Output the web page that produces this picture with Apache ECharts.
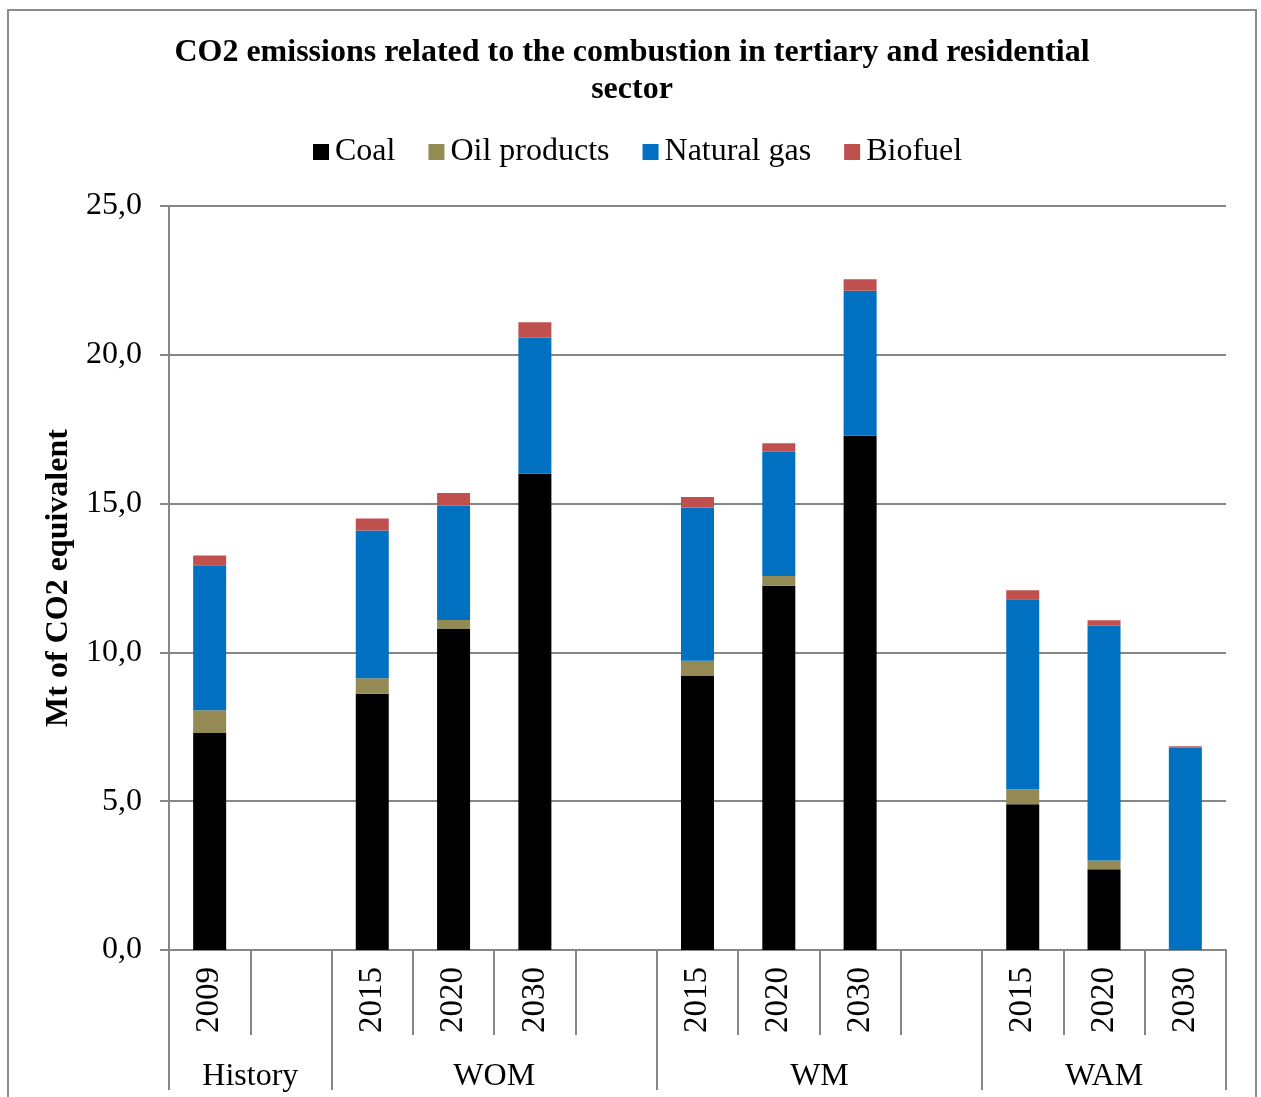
<!DOCTYPE html>
<html>
<head>
<meta charset="utf-8">
<script src="https://cdn.jsdelivr.net/npm/echarts@6/dist/echarts.min.js"></script>
<style>
  html, body { margin: 0; padding: 0; background: #fff; }
  #chart { width: 1261px; height: 1097px; }
</style>
</head>
<body>
<div id="chart"></div>
<script>
// Year slots on the category axis (blank slots separate the scenarios)
const years = ['2009', '', '2015', '2020', '2030', '', '2015', '2020', '2030', '', '2015', '2020', '2030'];
// Scenario groups drawn under the years: name, first slot, slot count
const groupNames = ['History', 'WOM', 'WM', 'WAM'];
const groupStarts = [0, 2, 6, 10];
const groupSizes = [2, 4, 4, 3];

// Emissions by fuel, Mt of CO2 equivalent
const coal    = [7.29, null, 8.61, 10.79, 16.00, null, 9.21, 12.24, 17.28, null, 4.90, 2.71, 0];
const oil     = [0.77, null, 0.52, 0.30, 0, null, 0.51, 0.33, 0, null, 0.50, 0.30, 0];
const gas     = [4.87, null, 4.97, 3.84, 4.58, null, 5.15, 4.17, 4.87, null, 6.39, 7.89, 6.80];
const biofuel = [0.33, null, 0.40, 0.43, 0.51, null, 0.35, 0.29, 0.39, null, 0.30, 0.18, 0.05];

const FONT = "'Liberation Serif', 'Times New Roman', serif";
const GRID_GRAY = '#868686';

const groupBounds = [0].concat(groupStarts.map((s, i) => s + groupSizes[i]));
const groupCenters = groupStarts.map((s, i) => s + groupSizes[i] / 2);

const chart = echarts.init(document.getElementById('chart'), null, { renderer: 'canvas' });

function bar(name, data, color) {
  return {
    name: name,
    type: 'bar',
    stack: 'total',
    xAxisIndex: 0,
    yAxisIndex: 0,
    barWidth: 33,
    data: data,
    itemStyle: { color: color },
    emphasis: { disabled: true }
  };
}

chart.setOption({
  animation: false,
  backgroundColor: '#fff',
  textStyle: { fontFamily: FONT },
  title: {
    text: 'CO2 emissions related to the combustion in tertiary and residential\nsector',
    left: 627,
    top: 29,
    textAlign: 'center',
    textStyle: {
      fontFamily: FONT,
      fontWeight: 'bold',
      fontSize: 32,
      lineHeight: 37,
      color: '#000'
    }
  },
  legend: {
    left: 308,
    top: 131,
    icon: 'rect',
    itemWidth: 16,
    itemHeight: 16,
    itemGap: 33,
    textStyle: { fontFamily: FONT, fontSize: 32, color: '#000', padding: [0, 0, 0, 1] },
    data: ['Coal', 'Oil products', 'Natural gas', 'Biofuel']
  },
  grid: { left: 169, right: 35, top: 206, bottom: 147, containLabel: false },
  xAxis: [
    {
      type: 'category',
      data: years,
      position: 'bottom',
      boundaryGap: true,
      axisLine: { show: true, lineStyle: { color: GRID_GRAY, width: 2 } },
      axisTick: { show: true, interval: 0, length: 85, lineStyle: { color: GRID_GRAY, width: 2 } },
      axisLabel: {
        interval: 0,
        rotate: 90,
        margin: 17,
        fontFamily: FONT,
        fontSize: 33,
        color: '#000'
      },
      splitLine: { show: false }
    },
    {
      type: 'value',
      min: 0,
      max: years.length,
      position: 'bottom',
      offset: 85,
      axisLine: { show: false },
      axisTick: {
        show: true,
        length: 55,
        customValues: groupBounds,
        lineStyle: { color: GRID_GRAY, width: 2 }
      },
      axisLabel: {
        show: true,
        customValues: groupCenters,
        margin: 26,
        fontFamily: FONT,
        fontSize: 32,
        color: '#000',
        formatter: function (v) {
          const i = groupCenters.indexOf(v);
          return i >= 0 ? groupNames[i] : '';
        }
      },
      splitLine: { show: false }
    }
  ],
  yAxis: {
    type: 'value',
    min: 0,
    max: 25,
    interval: 5,
    name: 'Mt of CO2 equivalent',
    nameLocation: 'middle',
    nameGap: 92,
    nameTextStyle: { fontFamily: FONT, fontWeight: 'bold', fontSize: 32, color: '#000' },
    axisLine: { show: true, lineStyle: { color: GRID_GRAY, width: 2 } },
    axisTick: { show: true, length: 9, lineStyle: { color: GRID_GRAY, width: 2 } },
    axisLabel: {
      margin: 27,
      fontFamily: FONT,
      fontSize: 32,
      color: '#000',
      formatter: function (v) { return v.toFixed(1).replace('.', ','); }
    },
    splitLine: { show: true, lineStyle: { color: GRID_GRAY, width: 2 } }
  },
  series: [
    bar('Coal', coal, '#000000'),
    bar('Oil products', oil, '#948A54'),
    bar('Natural gas', gas, '#0070C0'),
    bar('Biofuel', biofuel, '#C0504D')
  ],
  graphic: [
    {
      type: 'rect',
      silent: true,
      z: -1,
      shape: { x: 8, y: 10, width: 1248, height: 1110 },
      style: { fill: null, stroke: '#8c8c8c', lineWidth: 2 }
    }
  ]
});
</script>
</body>
</html>
